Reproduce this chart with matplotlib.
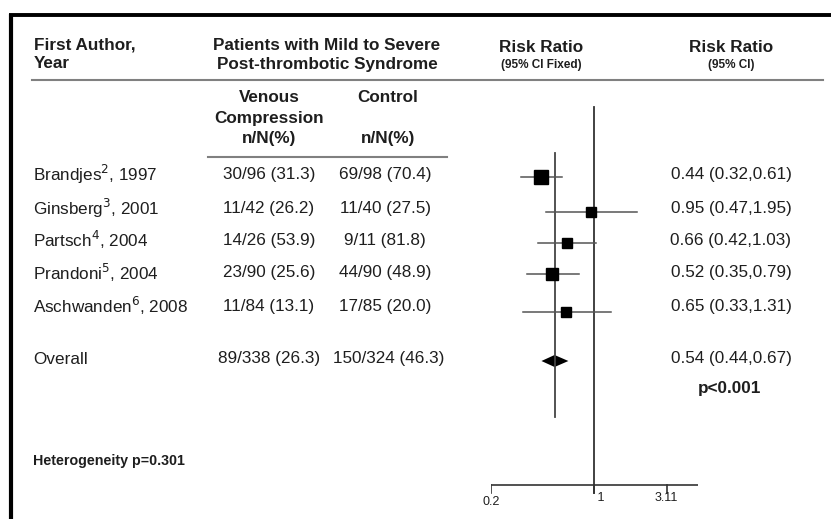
import numpy as np
import matplotlib as mpl
mpl.use("Agg")
import matplotlib.pyplot as plt

plt.rcParams['font.family'] = ['Liberation Sans', 'DejaVu Sans']

# data
authors = ["Brandjes", "Ginsberg", "Partsch", "Prandoni", "Aschwanden"]
refs = ["2", "3", "4", "5", "6"]
years = [1997, 2001, 2004, 2004, 2008]
comp_n = [30, 11, 14, 23, 11]
comp_N = [96, 42, 26, 90, 84]
comp_pct = [31.3, 26.2, 53.9, 25.6, 13.1]
ctrl_n = [69, 11, 9, 44, 17]
ctrl_N = [98, 40, 11, 90, 85]
ctrl_pct = [70.4, 27.5, 81.8, 48.9, 20.0]
rr = [0.44, 0.95, 0.66, 0.52, 0.65]
rr_lo = [0.32, 0.47, 0.42, 0.35, 0.33]
rr_hi = [0.61, 1.95, 1.03, 0.79, 1.31]
overall_comp = (89, 338, 26.3)
overall_ctrl = (150, 324, 46.3)
overall_rr = (0.54, 0.44, 0.67)
xticks = [0.2, 1, 3.11]

# layout in pixels
W, H = 831, 519
row_y = [174, 208, 240, 273, 306]
sq_y = [177, 212, 243, 274, 312]
overall_y = 359
sq_size = [9.4, 7.2, 7.2, 8.6, 7.9]
txt = '#1e1e1e'
fs = 12.3

fig = plt.figure(figsize=(W / 100, H / 100), dpi=100)
ax = fig.add_axes([0, 0, 1, 1])
ax.set_xlim(0, W)
ax.set_ylim(H, 0)
ax.axis('off')

# frame
ax.plot([9, W], [15, 15], color='black', lw=2.8, solid_capstyle='butt')
ax.plot([11, 11], [14, H], color='black', lw=3.0, solid_capstyle='butt')

# headers
hb = dict(fontsize=fs, fontweight='bold', color=txt, va='center')
sb = dict(fontsize=8.5, fontweight='bold', color=txt, va='center', ha='center')
ax.text(34, 45, "First Author,", ha='left', **hb)
ax.text(34, 64, "Year", ha='left', **hb)
ax.text(327, 45, "Patients with Mild to Severe", ha='center', **hb)
ax.text(327, 64, "Post-thrombotic Syndrome", ha='center', **hb)
ax.text(541, 48, "Risk Ratio", ha='center', **hb)
ax.text(541, 65, "(95% CI Fixed)", **sb)
ax.text(731, 48, "Risk Ratio", ha='center', **hb)
ax.text(731, 65, "(95% CI)", **sb)
ax.plot([32, 823], [80, 80], color='#808080', lw=1.5)

ax.text(269, 98, "Venous", ha='center', **hb)
ax.text(269, 118, "Compression", ha='center', **hb)
ax.text(269, 138, "n/N(%)", ha='center', **hb)
ax.text(388, 98, "Control", ha='center', **hb)
ax.text(388, 138, "n/N(%)", ha='center', **hb)
ax.plot([208, 447], [157, 157], color='#808080', lw=1.5)

# table rows
rb = dict(fontsize=fs, color=txt, va='center')
for i in range(len(authors)):
    y = row_y[i]
    ax.text(33, y, "%s$^{%s}$, %d" % (authors[i], refs[i], years[i]), ha='left', **rb)
    ax.text(269, y, "%d/%d (%.1f)" % (comp_n[i], comp_N[i], comp_pct[i]), ha='center', **rb)
    ax.text(385, y, "%d/%d (%.1f)" % (ctrl_n[i], ctrl_N[i], ctrl_pct[i]), ha='center', **rb)
    ax.text(731, y, "%.2f (%.2f,%.2f)" % (rr[i], rr_lo[i], rr_hi[i]), ha='center', **rb)

ax.text(33, overall_y, "Overall", ha='left', **rb)
ax.text(269, overall_y, "%d/%d (%.1f)" % overall_comp, ha='center', **rb)
ax.text(389, overall_y, "%d/%d (%.1f)" % overall_ctrl, ha='center', **rb)
ax.text(731, overall_y, "%.2f (%.2f,%.2f)" % overall_rr, ha='center', **rb)
ax.text(698, 389, "p<0.001", ha='left', va='center', fontsize=fs, fontweight='bold', color=txt)
ax.text(33, 461, "Heterogeneity p=0.301", ha='left', va='center', fontsize=10.3,
        fontweight='bold', color=txt)

# forest plot axes (log scale, pixel y)
x0, x1 = 491, 698
k = 64.0
fax = fig.add_axes([x0 / W, 0, (x1 - x0) / W, 1])
fax.set_xscale('log')
fax.set_xlim(0.2, 0.2 * np.exp((x1 - x0) / k))
fax.set_ylim(H, 0)
fax.patch.set_alpha(0)
for s in fax.spines.values():
    s.set_visible(False)
fax.set_yticks([])
fax.set_xticks([])
fax.minorticks_off()

axis_y = 485
fax.plot([0.2, fax.get_xlim()[1]], [axis_y, axis_y], color='#333333', lw=1.2)
for t in xticks:
    fax.plot([t, t], [axis_y, axis_y + 8], color='#333333', lw=1.2)
fax.text(0.2, axis_y + 17, "0.2", ha='center', va='center', fontsize=9, color=txt)
fax.text(1, axis_y + 13, " 1", ha='left', va='center', fontsize=9, color=txt)
fax.text(3.11, axis_y + 13, "3.11", ha='center', va='center', fontsize=9, color=txt)

fax.plot([1, 1], [107, axis_y + 8], color='#333333', lw=1.3)
fax.plot([overall_rr[0]] * 2, [153, 417], color='#444444', lw=1.3)

for i in range(len(rr)):
    fax.plot([rr_lo[i], rr_hi[i]], [sq_y[i], sq_y[i]], color='#555555', lw=1.1)
    fax.plot(rr[i], sq_y[i], marker='s', ms=sq_size[i], color='black', mec='black')

m, lo, hi = overall_rr
dy = 361
fax.fill([lo, m, hi, m], [dy, dy - 6, dy, dy + 6], color='black', lw=0)

fig.savefig('out.png', dpi=100)
